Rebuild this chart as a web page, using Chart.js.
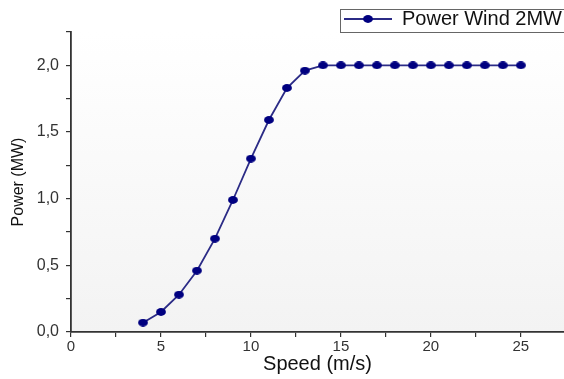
<!DOCTYPE html>
<html>
<head>
<meta charset="utf-8">
<script src="https://cdn.jsdelivr.net/npm/chart.js@4/dist/chart.umd.min.js"></script>
<style>
  html, body { margin: 0; padding: 0; background: #fff; }
  #wrap { width: 564px; height: 379px; }
</style>
</head>
<body>
<div id="wrap"><canvas id="chart" width="564" height="379"></canvas></div>
<script>
const speeds = [4, 5, 6, 7, 8, 9, 10, 11, 12, 13, 14, 15, 16, 17, 18, 19, 20, 21, 22, 23, 24, 25];
const powerMW = [0.07, 0.15, 0.28, 0.46, 0.70, 0.99, 1.30, 1.59, 1.83, 1.96, 2.0, 2.0, 2.0, 2.0, 2.0, 2.0, 2.0, 2.0, 2.0, 2.0, 2.0, 2.0];
const seriesLabel = 'Power Wind 2MW';
const xLabels = [0, 5, 10, 15, 20, 25];
const yLabels = [0, 0.5, 1.0, 1.5, 2.0];

const lineColor = '#2b2b86';
const dotColor = '#000080';
const font = 'Liberation Sans, Arial, sans-serif';

// Punto ligeramente ovalado, como en la imagen original
function makeDot() {
    const cv = document.createElement('canvas');
    cv.width = 10;
    cv.height = 8;
    const c = cv.getContext('2d');
    c.fillStyle = dotColor;
    c.beginPath();
    c.ellipse(5, 4, 4.9, 3.9, 0, 0, Math.PI * 2);
    c.fill();
    return cv;
}
const dotImg = makeDot();

// Icono de leyenda: línea con punto
const legendIcon = document.createElement('canvas');
legendIcon.width = 48;
legendIcon.height = 10;
(function () {
    const c = legendIcon.getContext('2d');
    c.strokeStyle = lineColor;
    c.lineWidth = 2;
    c.beginPath();
    c.moveTo(0, 5);
    c.lineTo(48, 5);
    c.stroke();
    c.drawImage(dotImg, 19, 1);
})();

// Fondo degradado, posición de la leyenda y su marco
const decorPlugin = {
    id: 'decor',
    afterLayout(chart) {
        // bajar la leyenda dentro de su recuadro sin mover el área del gráfico
        const lg = chart.legend;
        if (lg) {
            lg.top += 7;
            lg.bottom += 7;
        }
    },
    beforeDraw(chart) {
        const { ctx, chartArea } = chart;
        const g = ctx.createLinearGradient(0, chartArea.top, 0, chartArea.bottom);
        g.addColorStop(0, '#ffffff');
        g.addColorStop(1, '#f3f3f3');
        ctx.save();
        ctx.fillStyle = g;
        ctx.fillRect(chartArea.left, chartArea.top, chartArea.right - chartArea.left, chartArea.bottom - chartArea.top);
        ctx.restore();
    },
    afterDraw(chart) {
        const lg = chart.legend;
        if (!lg || !lg.legendHitBoxes || !lg.legendHitBoxes.length) return;
        const hb = lg.legendHitBoxes[0];
        const { ctx } = chart;
        ctx.save();
        ctx.strokeStyle = '#666';
        ctx.lineWidth = 1;
        ctx.strokeRect(Math.round(hb.left) - 3.5, 9.5, chart.width - Math.round(hb.left) + 5, 23);
        ctx.restore();
    }
};

const fmt = v => v.toFixed(1).replace('.', ',');

new Chart(document.getElementById('chart'), {
    type: 'line',
    data: {
        datasets: [{
            label: seriesLabel,
            data: speeds.map((s, i) => ({ x: s, y: powerMW[i] })),
            borderColor: lineColor,
            borderWidth: 1.8,
            backgroundColor: dotColor,
            pointStyle: dotImg,
            pointRadius: 5,
            tension: 0,
            clip: false
        }]
    },
    options: {
        responsive: false,
        animation: false,
        layout: { autoPadding: false, padding: 0 },
        plugins: {
            legend: {
                position: 'top',
                align: 'end',
                labels: {
                    usePointStyle: true,
                    pointStyleWidth: 48,
                    boxHeight: 10,
                    padding: 2,
                    color: '#111',
                    font: { family: font, size: 20 },
                    generateLabels() {
                        return [{
                            text: seriesLabel,
                            pointStyle: legendIcon,
                            fillStyle: dotColor,
                            strokeStyle: lineColor,
                            lineWidth: 0,
                            datasetIndex: 0,
                            fontColor: '#111'
                        }];
                    }
                }
            },
            tooltip: { enabled: false }
        },
        scales: {
            x: {
                type: 'linear',
                min: 0,
                max: 27.4,
                afterFit(scale) { scale.height = 47; },
                afterBuildTicks(scale) {
                    const t = [];
                    for (let v = 0; v <= 25; v += 2.5) t.push({ value: v });
                    scale.ticks = t;
                },
                ticks: {
                    autoSkip: false,
                    maxRotation: 0,
                    padding: 1,
                    color: '#333',
                    font: { family: font, size: 15 },
                    callback: v => xLabels.includes(v) ? String(v) : ''
                },
                grid: { drawOnChartArea: false, drawTicks: true, tickLength: 5, tickColor: '#333', lineWidth: 1.2 },
                border: { display: true, color: '#333', width: 1.8 },
                title: {
                    display: true,
                    text: 'Speed (m/s)',
                    color: '#111',
                    font: { family: font, size: 20 },
                    padding: { top: 0, bottom: 3 }
                }
            },
            y: {
                min: 0,
                max: 2.25,
                afterFit(scale) { scale.width = 71; },
                afterBuildTicks(scale) {
                    const t = [];
                    for (let v = 0; v <= 2.25 + 1e-9; v += 0.25) t.push({ value: Math.round(v * 100) / 100 });
                    scale.ticks = t;
                },
                ticks: {
                    autoSkip: false,
                    padding: 7,
                    color: '#333',
                    font: { family: font, size: 16 },
                    callback: v => yLabels.includes(v) ? fmt(v) : ''
                },
                grid: { drawOnChartArea: false, drawTicks: true, tickLength: 5, tickColor: '#333', lineWidth: 1.2 },
                border: { display: true, color: '#333', width: 1.8 },
                title: {
                    display: true,
                    text: 'Power (MW)',
                    color: '#111',
                    font: { family: font, size: 16 },
                    padding: { top: 9, bottom: 0 }
                }
            }
        }
    },
    plugins: [decorPlugin]
});
</script>
</body>
</html>
